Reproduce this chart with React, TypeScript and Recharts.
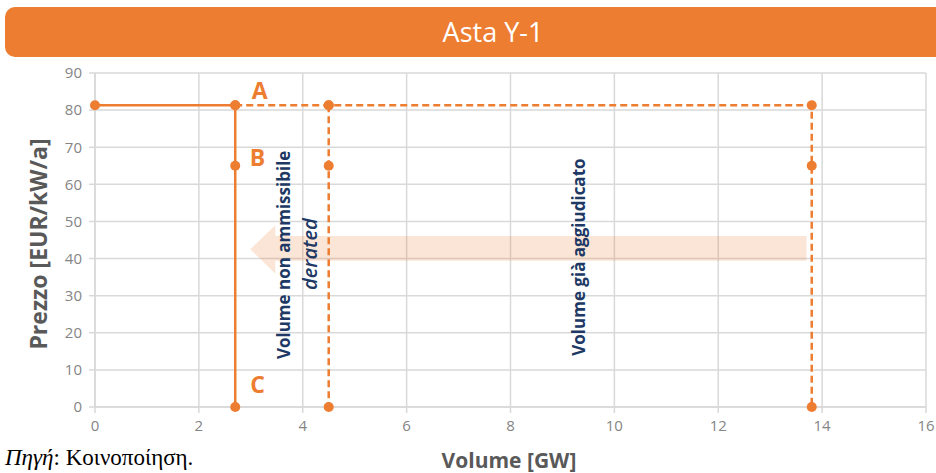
import React from "react";
import {
  LineChart,
  Line,
  XAxis,
  YAxis,
  CartesianGrid,
  ReferenceArea,
  ReferenceDot,
} from "recharts";

const orange = "#ED7D31";
const navy = "#203864";
const gridGray = "#d9d9d9";
const tickGray = "#858585";
const titleGray = "#595959";

const xTicks = [0, 2, 4, 6, 8, 10, 12, 14, 16];
const yTicks = [0, 10, 20, 30, 40, 50, 60, 70, 80, 90];

// solid curve A -> B -> C
const solidCurve = [
  { x: 0, y: 81.3 },
  { x: 2.7, y: 81.3 },
  { x: 2.7, y: 65 },
  { x: 2.7, y: 0 },
];

// dashed: price cap extended to already awarded volume
const dashedOuter = [
  { x: 2.7, y: 81.3 },
  { x: 4.5, y: 81.3 },
  { x: 13.8, y: 81.3 },
  { x: 13.8, y: 65 },
  { x: 13.8, y: 0 },
];

const dashedInner = [
  { x: 4.5, y: 81.3 },
  { x: 4.5, y: 65 },
  { x: 4.5, y: 0 },
];

// arrow pointing left (data units)
const arrowTipX = 2.99;
const arrowHeadBaseX = 3.47;
const arrowEndX = 13.7;
const arrowHeadTop = 49;
const arrowHeadBottom = 36;
const arrowBandTop = 46.1;
const arrowBandBottom = 39.4;

const pointLabels = [
  { text: "A", x: 3.17, y: 85.5 },
  { text: "B", x: 3.13, y: 67.4 },
  { text: "C", x: 3.13, y: 6.1 },
];

const verticalNotes = [
  { text: "Volume non ammissibile", x: 3.63, y: 41, italic: false },
  { text: "derated", x: 4.13, y: 41.2, italic: true },
  { text: "Volume già aggiudicato", x: 9.31, y: 40.4, italic: false },
];

const ArrowShape = (p: any) => {
  const { x, y, width, height } = p;
  const sx = (v: number) =>
    x + (width * (v - arrowTipX)) / (arrowEndX - arrowTipX);
  const sy = (v: number) =>
    y + (height * (arrowHeadTop - v)) / (arrowHeadTop - arrowHeadBottom);
  const pts = [
    [sx(arrowTipX), sy((arrowHeadTop + arrowHeadBottom) / 2)],
    [sx(arrowHeadBaseX), sy(arrowHeadTop)],
    [sx(arrowHeadBaseX), sy(arrowBandTop)],
    [sx(arrowEndX), sy(arrowBandTop)],
    [sx(arrowEndX), sy(arrowBandBottom)],
    [sx(arrowHeadBaseX), sy(arrowBandBottom)],
    [sx(arrowHeadBaseX), sy(arrowHeadBottom)],
  ];
  return (
    <polygon
      points={pts.map((q) => q.join(",")).join(" ")}
      fill={orange}
      fillOpacity={0.2}
    />
  );
};

const dot = { r: 5, fill: orange, stroke: orange, strokeWidth: 0 };

export default function App() {
  return (
    <div
      style={{
        position: "absolute",
        left: 0,
        top: 0,
        width: 936,
        height: 473,
        overflow: "hidden",
        background: "#fff",
        fontFamily: "'Open Sans', sans-serif",
      }}
    >
      <div
        style={{
          position: "absolute",
          left: 5,
          top: 7,
          width: 970,
          height: 50,
          borderRadius: 10,
          background: orange,
        }}
      />
      <div
        style={{
          position: "absolute",
          left: 493,
          top: 7,
          height: 50,
          lineHeight: "50px",
          transform: "translateX(-50%)",
          color: "#fff",
          fontSize: 27,
          whiteSpace: "nowrap",
        }}
      >
        Asta Y-1
      </div>

      <div style={{ position: "absolute", left: 0, top: 0 }}>
        <LineChart
          width={936}
          height={473}
          margin={{ top: 73, right: 10, bottom: 36, left: 55 }}
        >
          <CartesianGrid stroke={gridGray} strokeWidth={1.5} />
          <XAxis
            dataKey="x"
            type="number"
            domain={[0, 16]}
            ticks={xTicks}
            height={30}
            axisLine={{ stroke: gridGray, strokeWidth: 1.5 }}
            tickLine={{ stroke: gridGray, strokeWidth: 1.5 }}
            tickSize={6}
            tickMargin={7}
            tick={{ fill: tickGray, fontSize: 15 }}
            allowDuplicatedCategory={false}
          />
          <YAxis
            type="number"
            domain={[0, 90]}
            ticks={yTicks}
            width={40}
            axisLine={{ stroke: gridGray, strokeWidth: 1.5 }}
            tickLine={{ stroke: gridGray, strokeWidth: 1.5 }}
            tickSize={6}
            tickMargin={7}
            tick={{ fill: tickGray, fontSize: 15 }}
          />
          <ReferenceArea
            x1={arrowTipX}
            x2={arrowEndX}
            y1={arrowHeadBottom}
            y2={arrowHeadTop}
            shape={ArrowShape}
          />
          <Line
            data={dashedOuter}
            dataKey="y"
            type="linear"
            stroke={orange}
            strokeWidth={2.5}
            strokeDasharray="7 4"
            dot={dot}
            activeDot={false}
            isAnimationActive={false}
          />
          <Line
            data={dashedInner}
            dataKey="y"
            type="linear"
            stroke={orange}
            strokeWidth={2.5}
            strokeDasharray="7 4"
            dot={dot}
            activeDot={false}
            isAnimationActive={false}
          />
          <Line
            data={solidCurve}
            dataKey="y"
            type="linear"
            stroke={orange}
            strokeWidth={2.5}
            dot={dot}
            activeDot={false}
            isAnimationActive={false}
          />
          {pointLabels.map((l) => (
            <ReferenceDot
              key={l.text}
              x={l.x}
              y={l.y}
              r={0}
              shape={(p: any) => (
                <text
                  x={p.cx}
                  y={p.cy}
                  textAnchor="middle"
                  dominantBaseline="central"
                  fill={orange}
                  fontSize={23}
                  fontWeight="bold"
                  fontFamily="'Open Sans', sans-serif"
                >
                  {l.text}
                </text>
              )}
            />
          ))}
          {verticalNotes.map((n) => (
            <ReferenceDot
              key={n.text}
              x={n.x}
              y={n.y}
              r={0}
              shape={(p: any) => (
                <text
                  x={p.cx}
                  y={p.cy}
                  transform={`rotate(-90 ${p.cx} ${p.cy})`}
                  textAnchor="middle"
                  dominantBaseline="central"
                  fill={navy}
                  fontSize={n.italic ? 20 : 17}
                  fontWeight={n.italic ? "600" : "bold"}
                  fontStyle={n.italic ? "italic" : "normal"}
                  fontFamily="'Open Sans', sans-serif"
                >
                  {n.text}
                </text>
              )}
            />
          ))}
        </LineChart>
      </div>

      <svg
        width={936}
        height={473}
        style={{ position: "absolute", left: 0, top: 0, pointerEvents: "none" }}
      >
        <text
          x={38}
          y={244}
          transform="rotate(-90 38 244)"
          textAnchor="middle"
          dominantBaseline="central"
          fill={titleGray}
          fontSize={23}
          fontWeight="bold"
          fontFamily="'Open Sans', sans-serif"
        >
          Prezzo [EUR/kW/a]
        </text>
        <text
          x={509}
          y={460}
          textAnchor="middle"
          dominantBaseline="central"
          fill={titleGray}
          fontSize={21}
          fontWeight="bold"
          fontFamily="'Open Sans', sans-serif"
        >
          Volume [GW]
        </text>
      </svg>

      <div
        style={{
          position: "absolute",
          left: 5,
          top: 445,
          fontFamily: "'Liberation Serif', serif",
          fontSize: 23,
          lineHeight: "26px",
          color: "#000",
          whiteSpace: "nowrap",
        }}
      >
        <i>Πηγή</i>: Κοινοποίηση.
      </div>
    </div>
  );
}
